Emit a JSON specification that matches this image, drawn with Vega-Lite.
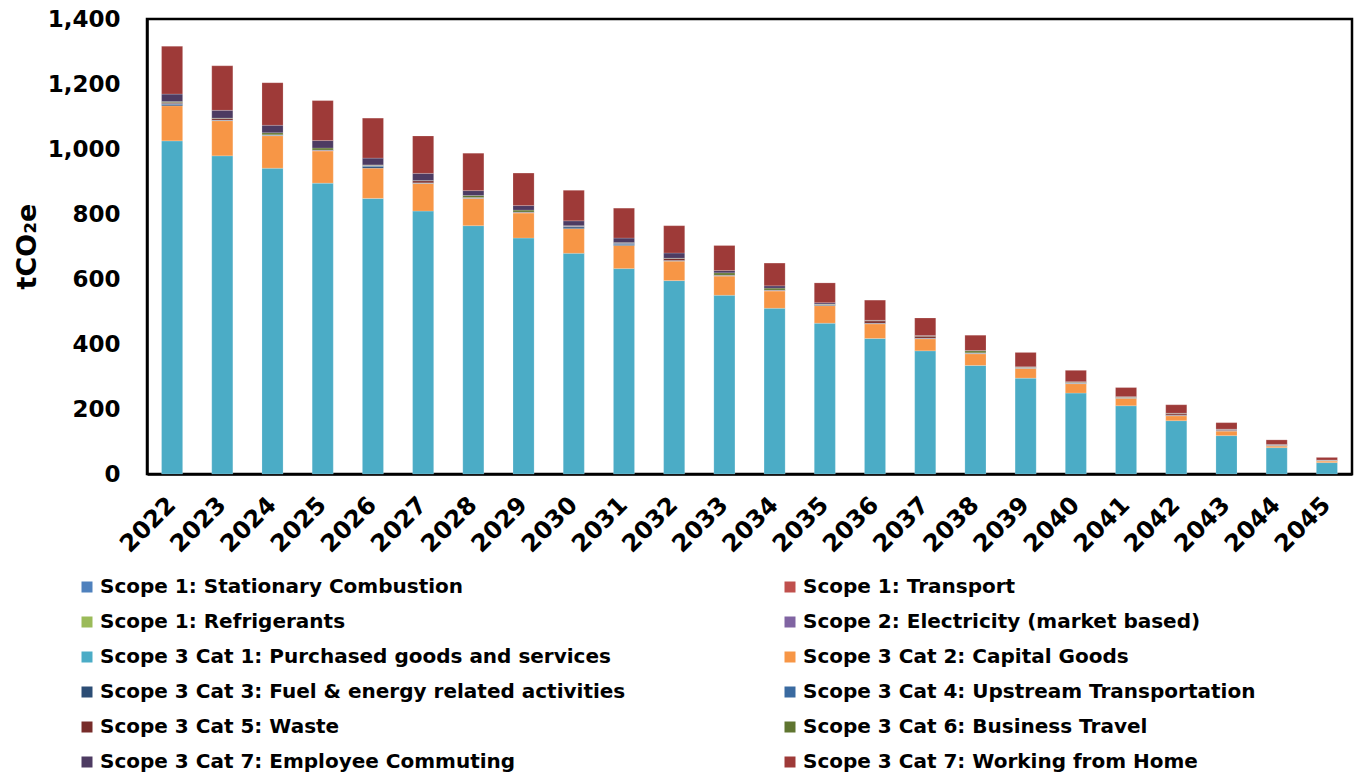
{
  "$schema": "https://vega.github.io/schema/vega-lite/v6.json",
  "width": 1205,
  "height": 455,
  "autosize": {"type": "none"},
  "padding": {"left": 147, "top": 19, "right": 6, "bottom": 300},
  "background": "white",
  "data": {
    "values": [
      {"year": "2022", "Scope 3 Cat 1: Purchased goods and services": 1025, "Scope 3 Cat 2: Capital Goods": 108, "Scope 3 Cat 3: Fuel & energy related activities": 4, "Scope 3 Cat 4: Upstream Transportation": 3, "Scope 3 Cat 5: Waste": 3, "Scope 3 Cat 6: Business Travel": 3, "Scope 3 Cat 7: Employee Commuting": 23, "Scope 3 Cat 7: Working from Home": 147},
      {"year": "2023", "Scope 3 Cat 1: Purchased goods and services": 979, "Scope 3 Cat 2: Capital Goods": 108, "Scope 3 Cat 3: Fuel & energy related activities": 1, "Scope 3 Cat 4: Upstream Transportation": 1, "Scope 3 Cat 5: Waste": 5, "Scope 3 Cat 6: Business Travel": 1, "Scope 3 Cat 7: Employee Commuting": 24, "Scope 3 Cat 7: Working from Home": 137},
      {"year": "2024", "Scope 3 Cat 1: Purchased goods and services": 941, "Scope 3 Cat 2: Capital Goods": 100, "Scope 3 Cat 3: Fuel & energy related activities": 1, "Scope 3 Cat 4: Upstream Transportation": 1, "Scope 3 Cat 5: Waste": 1, "Scope 3 Cat 6: Business Travel": 6, "Scope 3 Cat 7: Employee Commuting": 23, "Scope 3 Cat 7: Working from Home": 131},
      {"year": "2025", "Scope 3 Cat 1: Purchased goods and services": 895, "Scope 3 Cat 2: Capital Goods": 99, "Scope 3 Cat 3: Fuel & energy related activities": 1, "Scope 3 Cat 4: Upstream Transportation": 1, "Scope 3 Cat 5: Waste": 1, "Scope 3 Cat 6: Business Travel": 6, "Scope 3 Cat 7: Employee Commuting": 23, "Scope 3 Cat 7: Working from Home": 123},
      {"year": "2026", "Scope 3 Cat 1: Purchased goods and services": 848, "Scope 3 Cat 2: Capital Goods": 93, "Scope 3 Cat 3: Fuel & energy related activities": 5, "Scope 3 Cat 4: Upstream Transportation": 3, "Scope 3 Cat 5: Waste": 1, "Scope 3 Cat 6: Business Travel": 1, "Scope 3 Cat 7: Employee Commuting": 21, "Scope 3 Cat 7: Working from Home": 123},
      {"year": "2027", "Scope 3 Cat 1: Purchased goods and services": 809, "Scope 3 Cat 2: Capital Goods": 85, "Scope 3 Cat 3: Fuel & energy related activities": 1, "Scope 3 Cat 4: Upstream Transportation": 1, "Scope 3 Cat 5: Waste": 6, "Scope 3 Cat 6: Business Travel": 1, "Scope 3 Cat 7: Employee Commuting": 22, "Scope 3 Cat 7: Working from Home": 115},
      {"year": "2028", "Scope 3 Cat 1: Purchased goods and services": 764, "Scope 3 Cat 2: Capital Goods": 84, "Scope 3 Cat 3: Fuel & energy related activities": 1, "Scope 3 Cat 4: Upstream Transportation": 1, "Scope 3 Cat 5: Waste": 1, "Scope 3 Cat 6: Business Travel": 6, "Scope 3 Cat 7: Employee Commuting": 15, "Scope 3 Cat 7: Working from Home": 115},
      {"year": "2029", "Scope 3 Cat 1: Purchased goods and services": 726, "Scope 3 Cat 2: Capital Goods": 77, "Scope 3 Cat 3: Fuel & energy related activities": 1, "Scope 3 Cat 4: Upstream Transportation": 1, "Scope 3 Cat 5: Waste": 1, "Scope 3 Cat 6: Business Travel": 6, "Scope 3 Cat 7: Employee Commuting": 14, "Scope 3 Cat 7: Working from Home": 100},
      {"year": "2030", "Scope 3 Cat 1: Purchased goods and services": 679, "Scope 3 Cat 2: Capital Goods": 76, "Scope 3 Cat 3: Fuel & energy related activities": 5, "Scope 3 Cat 4: Upstream Transportation": 2, "Scope 3 Cat 5: Waste": 1, "Scope 3 Cat 6: Business Travel": 1, "Scope 3 Cat 7: Employee Commuting": 15, "Scope 3 Cat 7: Working from Home": 94},
      {"year": "2031", "Scope 3 Cat 1: Purchased goods and services": 632, "Scope 3 Cat 2: Capital Goods": 71, "Scope 3 Cat 3: Fuel & energy related activities": 3, "Scope 3 Cat 4: Upstream Transportation": 4, "Scope 3 Cat 5: Waste": 1, "Scope 3 Cat 6: Business Travel": 1, "Scope 3 Cat 7: Employee Commuting": 14, "Scope 3 Cat 7: Working from Home": 92},
      {"year": "2032", "Scope 3 Cat 1: Purchased goods and services": 595, "Scope 3 Cat 2: Capital Goods": 60, "Scope 3 Cat 3: Fuel & energy related activities": 1, "Scope 3 Cat 4: Upstream Transportation": 1, "Scope 3 Cat 5: Waste": 6, "Scope 3 Cat 6: Business Travel": 1, "Scope 3 Cat 7: Employee Commuting": 16, "Scope 3 Cat 7: Working from Home": 84},
      {"year": "2033", "Scope 3 Cat 1: Purchased goods and services": 550, "Scope 3 Cat 2: Capital Goods": 59, "Scope 3 Cat 3: Fuel & energy related activities": 1, "Scope 3 Cat 4: Upstream Transportation": 1, "Scope 3 Cat 5: Waste": 1, "Scope 3 Cat 6: Business Travel": 7, "Scope 3 Cat 7: Employee Commuting": 7, "Scope 3 Cat 7: Working from Home": 77},
      {"year": "2034", "Scope 3 Cat 1: Purchased goods and services": 510, "Scope 3 Cat 2: Capital Goods": 53, "Scope 3 Cat 3: Fuel & energy related activities": 1, "Scope 3 Cat 4: Upstream Transportation": 1, "Scope 3 Cat 5: Waste": 1, "Scope 3 Cat 6: Business Travel": 6, "Scope 3 Cat 7: Employee Commuting": 7, "Scope 3 Cat 7: Working from Home": 70},
      {"year": "2035", "Scope 3 Cat 1: Purchased goods and services": 464, "Scope 3 Cat 2: Capital Goods": 54, "Scope 3 Cat 3: Fuel & energy related activities": 2, "Scope 3 Cat 4: Upstream Transportation": 1, "Scope 3 Cat 5: Waste": 1, "Scope 3 Cat 6: Business Travel": 1, "Scope 3 Cat 7: Employee Commuting": 4, "Scope 3 Cat 7: Working from Home": 61},
      {"year": "2036", "Scope 3 Cat 1: Purchased goods and services": 417, "Scope 3 Cat 2: Capital Goods": 45, "Scope 3 Cat 3: Fuel & energy related activities": 1, "Scope 3 Cat 4: Upstream Transportation": 1, "Scope 3 Cat 5: Waste": 7, "Scope 3 Cat 6: Business Travel": 1, "Scope 3 Cat 7: Employee Commuting": 1, "Scope 3 Cat 7: Working from Home": 62},
      {"year": "2037", "Scope 3 Cat 1: Purchased goods and services": 379, "Scope 3 Cat 2: Capital Goods": 37, "Scope 3 Cat 3: Fuel & energy related activities": 1, "Scope 3 Cat 4: Upstream Transportation": 1, "Scope 3 Cat 5: Waste": 6, "Scope 3 Cat 6: Business Travel": 1, "Scope 3 Cat 7: Employee Commuting": 1, "Scope 3 Cat 7: Working from Home": 54},
      {"year": "2038", "Scope 3 Cat 1: Purchased goods and services": 334, "Scope 3 Cat 2: Capital Goods": 36, "Scope 3 Cat 3: Fuel & energy related activities": 1, "Scope 3 Cat 4: Upstream Transportation": 1, "Scope 3 Cat 5: Waste": 1, "Scope 3 Cat 6: Business Travel": 6, "Scope 3 Cat 7: Employee Commuting": 1, "Scope 3 Cat 7: Working from Home": 47},
      {"year": "2039", "Scope 3 Cat 1: Purchased goods and services": 295, "Scope 3 Cat 2: Capital Goods": 30, "Scope 3 Cat 3: Fuel & energy related activities": 1, "Scope 3 Cat 4: Upstream Transportation": 1, "Scope 3 Cat 5: Waste": 1, "Scope 3 Cat 6: Business Travel": 1, "Scope 3 Cat 7: Employee Commuting": 1, "Scope 3 Cat 7: Working from Home": 44},
      {"year": "2040", "Scope 3 Cat 1: Purchased goods and services": 249, "Scope 3 Cat 2: Capital Goods": 29, "Scope 3 Cat 3: Fuel & energy related activities": 1, "Scope 3 Cat 4: Upstream Transportation": 1, "Scope 3 Cat 5: Waste": 2, "Scope 3 Cat 6: Business Travel": 1, "Scope 3 Cat 7: Employee Commuting": 1, "Scope 3 Cat 7: Working from Home": 35},
      {"year": "2041", "Scope 3 Cat 1: Purchased goods and services": 210, "Scope 3 Cat 2: Capital Goods": 23, "Scope 3 Cat 3: Fuel & energy related activities": 1, "Scope 3 Cat 4: Upstream Transportation": 1, "Scope 3 Cat 5: Waste": 1, "Scope 3 Cat 6: Business Travel": 1, "Scope 3 Cat 7: Employee Commuting": 1, "Scope 3 Cat 7: Working from Home": 28},
      {"year": "2042", "Scope 3 Cat 1: Purchased goods and services": 164, "Scope 3 Cat 2: Capital Goods": 15, "Scope 3 Cat 3: Fuel & energy related activities": 1, "Scope 3 Cat 4: Upstream Transportation": 1, "Scope 3 Cat 5: Waste": 4, "Scope 3 Cat 6: Business Travel": 1, "Scope 3 Cat 7: Employee Commuting": 1, "Scope 3 Cat 7: Working from Home": 26},
      {"year": "2043", "Scope 3 Cat 1: Purchased goods and services": 118, "Scope 3 Cat 2: Capital Goods": 14, "Scope 3 Cat 3: Fuel & energy related activities": 1, "Scope 3 Cat 4: Upstream Transportation": 1, "Scope 3 Cat 5: Waste": 2, "Scope 3 Cat 6: Business Travel": 1, "Scope 3 Cat 7: Employee Commuting": 1, "Scope 3 Cat 7: Working from Home": 20},
      {"year": "2044", "Scope 3 Cat 1: Purchased goods and services": 81, "Scope 3 Cat 2: Capital Goods": 5, "Scope 3 Cat 3: Fuel & energy related activities": 1, "Scope 3 Cat 4: Upstream Transportation": 1, "Scope 3 Cat 5: Waste": 1, "Scope 3 Cat 6: Business Travel": 1, "Scope 3 Cat 7: Employee Commuting": 1, "Scope 3 Cat 7: Working from Home": 14},
      {"year": "2045", "Scope 3 Cat 1: Purchased goods and services": 35, "Scope 3 Cat 2: Capital Goods": 5, "Scope 3 Cat 3: Fuel & energy related activities": 0.5, "Scope 3 Cat 4: Upstream Transportation": 0.5, "Scope 3 Cat 5: Waste": 1, "Scope 3 Cat 6: Business Travel": 0.5, "Scope 3 Cat 7: Employee Commuting": 0.5, "Scope 3 Cat 7: Working from Home": 8}
    ]
  },
  "transform": [
    {"fold": ["Scope 3 Cat 1: Purchased goods and services", "Scope 3 Cat 2: Capital Goods", "Scope 3 Cat 3: Fuel & energy related activities", "Scope 3 Cat 4: Upstream Transportation", "Scope 3 Cat 5: Waste", "Scope 3 Cat 6: Business Travel", "Scope 3 Cat 7: Employee Commuting", "Scope 3 Cat 7: Working from Home"], "as": ["category", "value"]}
  ],
  "mark": {"type": "bar", "stroke": "white", "strokeWidth": 0.6, "strokeOpacity": 0.3},
  "encoding": {
    "x": {
      "field": "year", "type": "ordinal",
      "scale": {"paddingInner": 0.58, "paddingOuter": 0.29},
      "axis": {"title": null, "labelAngle": -45, "labelAlign": "right", "labelBaseline": "middle", "labelPadding": 27, "ticks": false, "domainColor": "black", "domainWidth": 2.5, "labelFont": "DejaVu Sans", "labelFontWeight": "bold", "labelFontSize": 24, "labelColor": "black"}
    },
    "y": {
      "field": "value", "type": "quantitative", "stack": "zero",
      "scale": {"domain": [0, 1400]},
      "axis": {"title": "tCO₂e", "values": [0, 200, 400, 600, 800, 1000, 1200, 1400], "format": ",d", "grid": false, "ticks": false, "domainColor": "black", "domainWidth": 2.5, "labelPadding": 27, "labelFont": "DejaVu Sans", "labelFontWeight": "bold", "labelFontSize": 23, "labelColor": "black", "titleFont": "DejaVu Sans", "titleFontWeight": "bold", "titleFontSize": 27, "titleColor": "black", "titleX": -112, "titleY": 227, "titleAngle": -90, "titleBaseline": "alphabetic", "titleAlign": "center"}
    },
    "order": {"field": "category", "sort": "ascending"},
    "color": {
      "field": "category", "type": "nominal",
      "scale": {
        "domain": ["Scope 1: Stationary Combustion", "Scope 1: Transport", "Scope 1: Refrigerants", "Scope 2: Electricity (market based)", "Scope 3 Cat 1: Purchased goods and services", "Scope 3 Cat 2: Capital Goods", "Scope 3 Cat 3: Fuel & energy related activities", "Scope 3 Cat 4: Upstream Transportation", "Scope 3 Cat 5: Waste", "Scope 3 Cat 6: Business Travel", "Scope 3 Cat 7: Employee Commuting", "Scope 3 Cat 7: Working from Home"],
        "range": ["#4F81BD", "#C0504D", "#9BBB59", "#8064A2", "#4BACC6", "#F79646", "#2C4D75", "#3A6AA0", "#772C2A", "#5F7530", "#4D3B62", "#9E3A38"]
      },
      "legend": {
        "title": null, "orient": "none", "legendX": -70, "legendY": 558, "direction": "horizontal", "columns": 2,
        "columnPadding": 154, "rowPadding": 15,
        "symbolType": "square", "symbolSize": 121, "symbolStrokeWidth": 0, "labelOffset": 3,
        "labelFont": "DejaVu Sans", "labelFontWeight": "bold", "labelFontSize": 20, "labelColor": "black", "labelLimit": 700
      }
    }
  },
  "config": {
    "view": {"stroke": "black", "strokeWidth": 2.5},
    "axis": {"labelOverlap": false}
  }
}
